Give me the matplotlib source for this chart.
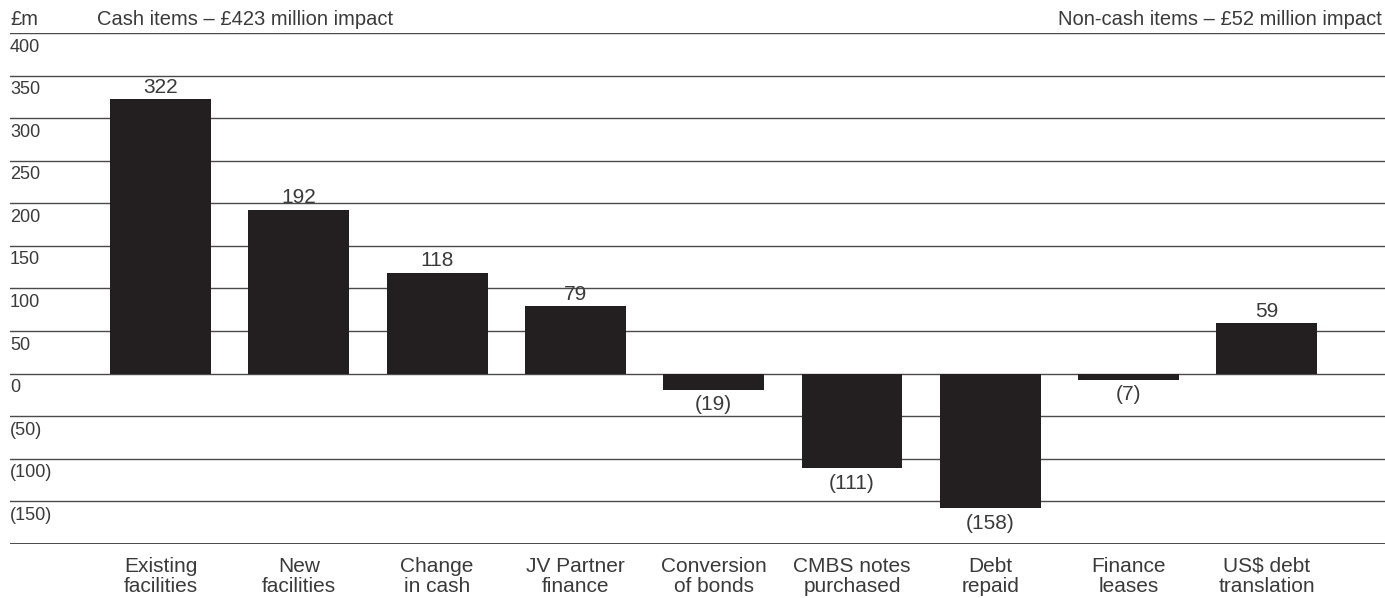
import matplotlib.pyplot as plt
import matplotlib.transforms as mtransforms
import numpy as np

plt.rcParams['font.family'] = ['Liberation Sans', 'DejaVu Sans']

categories = ['Existing\nfacilities', 'New\nfacilities', 'Change\nin cash', 'JV Partner\nfinance',
              'Conversion\nof bonds', 'CMBS notes\npurchased', 'Debt\nrepaid', 'Finance\nleases',
              'US$ debt\ntranslation']
values = [322, 192, 118, 79, -19, -111, -158, -7, 59]
grid_values = [400, 350, 300, 250, 200, 150, 100, 50, 0, -50, -100, -150]

ink = '#231f20'
text_col = '#3a3a3a'


def fmt(v):
    return f'({abs(v)})' if v < 0 else f'{v}'


fig = plt.figure(figsize=(13.85, 5.98), dpi=100)
ax = fig.add_axes([10 / 1385, 1 - 544 / 598, 1 - 10 / 1385, (544 - 33) / 598])

x = np.arange(len(categories))
ax.set_xlim(-1.088, 8.854)
ax.set_ylim(-200, 400)

# horizontal rules behind the bars
for g in grid_values:
    ax.axhline(g, color='#4a4a4a', lw=1.0, zorder=1)
ax.axhline(-200, color='#4a4a4a', lw=1.4, zorder=1)

ax.bar(x, values, width=0.73, color=ink, zorder=2)

for xi, v in zip(x, values):
    if v >= 0:
        ax.annotate(fmt(v), (xi, v), xytext=(0, 2), textcoords='offset points',
                    ha='center', va='bottom', fontsize=15, color=text_col)
    else:
        ax.annotate(fmt(v), (xi, v), xytext=(0, -4), textcoords='offset points',
                    ha='center', va='top', fontsize=15, color=text_col)

# axis values sit just under their rule
trans = mtransforms.blended_transform_factory(ax.transAxes, ax.transData)
for g in grid_values:
    ax.annotate(fmt(g), (0.0, g), xycoords=trans, xytext=(0, -4), textcoords='offset points',
                ha='left', va='top', fontsize=13, color=text_col)

ax.set_xticks(x)
ax.set_xticklabels(categories, fontsize=15, color=text_col, linespacing=1.12)
ax.tick_params(axis='x', length=0, pad=9)
ax.set_yticks([])
for s in ax.spines.values():
    s.set_visible(False)

ax.text(0.0, 1.008, '£m', transform=ax.transAxes, ha='left', va='bottom', fontsize=14.5, color=text_col)
ax.text(0.063, 1.008, 'Cash items – £423 million impact', transform=ax.transAxes,
        ha='left', va='bottom', fontsize=14.5, color=text_col)
ax.text(0.998, 1.008, 'Non-cash items – £52 million impact', transform=ax.transAxes,
        ha='right', va='bottom', fontsize=14.5, color=text_col)

fig.savefig('out.png', dpi=100)
